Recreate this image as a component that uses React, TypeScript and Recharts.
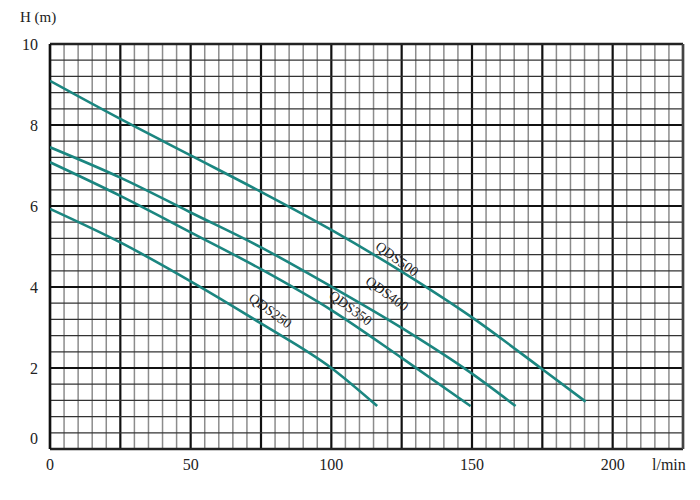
import { LineChart, Line, XAxis, YAxis, ReferenceLine, ReferenceDot } from "recharts";

// pump curves, flow (l/min) vs head (m)
const q500X = [0, 25, 50, 75, 100, 125, 150, 175, 190.4];
const q500H = [9.09, 8.15, 7.25, 6.35, 5.41, 4.38, 3.25, 1.97, 1.17];
const q400X = [0, 25, 50, 75, 100, 125, 150, 165.5];
const q400H = [7.45, 6.7, 5.84, 4.98, 4.01, 2.99, 1.86, 1.06];
const q350X = [0, 25, 50, 75, 100, 125, 149.5];
const q350H = [7.08, 6.25, 5.35, 4.44, 3.43, 2.25, 1.06];
const q250X = [0, 25, 50, 75, 100, 116.3];
const q250H = [5.93, 5.1, 4.14, 3.1, 2.0, 1.06];

const names = ["QDS500", "QDS400", "QDS350", "QDS250"];
const labelPos = [[123.3, 4.69], [119.8, 3.83], [106.8, 3.48], [78.3, 3.41]];

const xTicks = [0, 50, 100, 150, 200];
const yTicks = [0, 2, 4, 6, 8, 10];
const xMinor = Array.from({ length: 46 }, (_, i) => i * 5);
const yMinor = Array.from({ length: 26 }, (_, i) => +(i * 0.4).toFixed(1));

const toPts = (xs: number[], hs: number[]) => xs.map((x, i) => ({ q: x, h: hs[i] }));
const series = [toPts(q500X, q500H), toPts(q400X, q400H), toPts(q350X, q350H), toPts(q250X, q250H)];

const teal = "#1b8680";
const font = "'Liberation Serif', 'DejaVu Serif', serif";

const YTick = (p: any) => {
  const v = p.payload.value;
  return <text x={p.x - 4} y={p.y + (v === 0 ? -11 : 0)} dy={6} textAnchor="end" fontSize={16} fill="#222" fontFamily={font}>{v}</text>;
};

export default function App() {
  return <div style={{ position: "relative", width: 684, height: 484, fontFamily: font }}>
    <div style={{ position: "absolute", left: 12, top: 1, fontSize: 15, color: "#222" }}>H (m)</div>
    <div style={{ position: "absolute", left: 644, top: 448, fontSize: 16, color: "#222" }}>l/min</div>
    <LineChart width={684} height={484} margin={{ top: 36, right: 9, bottom: 13, left: 12 }}>
      <XAxis type="number" dataKey="q" domain={[0, 225]} ticks={xTicks} allowDataOverflow axisLine={false} tickLine={false} height={30}
        tick={{ fontSize: 16, fill: "#222", fontFamily: font }} tickMargin={4} />
      <YAxis type="number" dataKey="h" domain={[0, 10]} ticks={yTicks} allowDataOverflow axisLine={false} tickLine={false} width={30} tick={<YTick />} />
      {xMinor.map(v => <ReferenceLine key={"xm" + v} x={v} stroke={v % 25 === 0 ? "#111" : "#8c8c8c"} strokeWidth={v % 25 === 0 ? 2.2 : 1.5} />)}
      {yMinor.map(v => <ReferenceLine key={"ym" + v} y={v} stroke={v % 2 === 0 ? "#111" : "#333"} strokeWidth={v % 2 === 0 ? 2 : 1.2} />)}
      <ReferenceLine y={0} stroke="#222" strokeWidth={2.5} />
      <ReferenceLine y={10} stroke="#222" strokeWidth={2.5} />
      <ReferenceLine x={0} stroke="#111" strokeWidth={2.5} />
      <ReferenceLine x={225} stroke="#444" strokeWidth={2.5} />
      {series.map((d, i) => <Line key={names[i]} data={d} dataKey="h" type="monotone" stroke={teal} strokeWidth={2.6} dot={false} isAnimationActive={false} />)}
      {names.map((n, i) => <ReferenceDot key={"l" + n} x={labelPos[i][0]} y={labelPos[i][1]} r={0}
        shape={(p: any) => <text x={p.cx} y={p.cy} transform={`rotate(36 ${p.cx} ${p.cy})`} textAnchor="middle" dominantBaseline="central" fontSize={14} fill="#222" fontFamily={font}>{n}</text>} />)}
    </LineChart>
  </div>;
}
